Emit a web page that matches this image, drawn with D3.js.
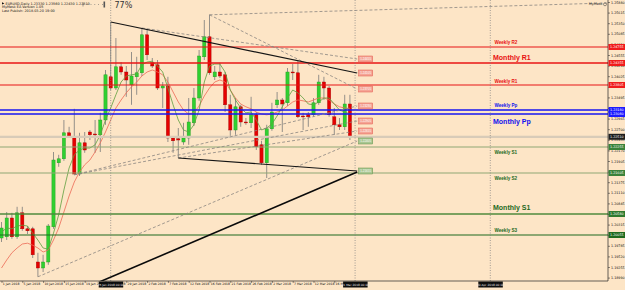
<!DOCTYPE html>
<html>
<head>
<meta charset="utf-8">
<script src="https://cdn.jsdelivr.net/npm/d3@7"></script>
<style>
  html, body { margin: 0; padding: 0; background: #fde5c6; }
  svg { display: block; font-family: "Liberation Sans", "DejaVu Sans", sans-serif; }
</style>
</head>
<body>
<div id="chart"></div>
<script>
// EURUSD daily candles, one entry per bar (bar 0 = 1 Jan 2018, Sunday bars included)
const candleOpen = [
  1.1998, 1.2001, 1.2048, 1.2001, 1.2061, 1.2021, 1.2021, 1.1938, 1.1923, 1.1938,
  1.2026, 1.2186, 1.2196, 1.2261, 1.2251, 1.2158, 1.2236, 1.2263, 1.2258, 1.2256,
  1.2293, 1.2401, 1.2373, 1.2426, 1.2413, 1.2381, 1.2401, 1.2411, 1.2506, 1.2436,
  1.2431, 1.2373, 1.2378, 1.2248, 1.2246, 1.2238, 1.2248, 1.2286, 1.2348, 1.2451,
  1.2501, 1.2401, 1.2413, 1.2406, 1.2331, 1.2268, 1.2326, 1.2288, 1.2286, 1.2306,
  1.2231, 1.2186, 1.2271, 1.2331, 1.2343, 1.2336, 1.2413, 1.2411, 1.2303, 1.2306,
  1.2306, 1.2336, 1.2388, 1.2373, 1.2301, 1.2281, 1.2276, 1.2333
];
const candleHigh = [
  1.2038, 1.2063, 1.2061, 1.2076, 1.2076, 1.2028, 1.2026, 1.1961, 1.1956, 1.2033,
  1.2213, 1.2206, 1.2293, 1.2276, 1.2321, 1.2261, 1.2263, 1.2268, 1.2293, 1.2311,
  1.2418, 1.2538, 1.2498, 1.2438, 1.2428, 1.2463, 1.2451, 1.2523, 1.2518, 1.2448,
  1.2443, 1.2388, 1.2401, 1.2253, 1.2273, 1.2286, 1.2348, 1.2373, 1.2468, 1.2543,
  1.2556, 1.2428, 1.2436, 1.2413, 1.2356, 1.2348, 1.2331, 1.2298, 1.2351, 1.2313,
  1.2241, 1.2281, 1.2336, 1.2363, 1.2348, 1.2423, 1.2433, 1.2443, 1.2311, 1.2313,
  1.2348, 1.2406, 1.2401, 1.2378, 1.2323, 1.2298, 1.2356, 1.2356
];
const candleLow = [
  1.1988, 1.1993, 1.1996, 1.1996, 1.2016, 1.2008, 1.1948, 1.1901, 1.1913, 1.1931,
  1.2021, 1.2176, 1.2191, 1.2248, 1.2156, 1.2153, 1.2211, 1.2243, 1.2211, 1.2213,
  1.2281, 1.2368, 1.2368, 1.2406, 1.2351, 1.2331, 1.2356, 1.2403, 1.2443, 1.2423,
  1.2368, 1.2323, 1.2238, 1.2211, 1.2198, 1.2231, 1.2231, 1.2278, 1.2341, 1.2443,
  1.2406, 1.2393, 1.2398, 1.2313, 1.2251, 1.2256, 1.2276, 1.2281, 1.2273, 1.2218,
  1.2181, 1.2148, 1.2266, 1.2323, 1.2263, 1.2328, 1.2393, 1.2298, 1.2268, 1.2276,
  1.2301, 1.2331, 1.2343, 1.2301, 1.2256, 1.2268, 1.2268, 1.2243
];
const candleClose = [
  1.2023, 1.2048, 1.2001, 1.2061, 1.2021, 1.2016, 1.1956, 1.1923, 1.1938, 1.2028,
  1.2193, 1.2196, 1.2261, 1.2253, 1.2158, 1.2236, 1.2218, 1.2256, 1.2256, 1.2293,
  1.2406, 1.2373, 1.2426, 1.2413, 1.2393, 1.2403, 1.2411, 1.2506, 1.2456, 1.2428,
  1.2373, 1.2378, 1.2248, 1.2241, 1.2243, 1.2248, 1.2288, 1.2348, 1.2453, 1.2501,
  1.2411, 1.2413, 1.2403, 1.2331, 1.2268, 1.2326, 1.2288, 1.2286, 1.2306, 1.2226,
  1.2186, 1.2271, 1.2313, 1.2343, 1.2333, 1.2413, 1.2411, 1.2301, 1.2301, 1.2301,
  1.2336, 1.2388, 1.2373, 1.2306, 1.2281, 1.2276, 1.2333, 1.2251
];

// Moving averages (fast = green, slow = salmon)
const maFast = [
  1.2013, 1.2023, 1.2021, 1.2028, 1.2030, 1.2028, 1.2010, 1.1993, 1.1973, 1.1970,
  1.2010, 1.2056, 1.2118, 1.2173, 1.2206, 1.2218, 1.2223, 1.2223, 1.2231, 1.2256,
  1.2293, 1.2323, 1.2356, 1.2388, 1.2403, 1.2406, 1.2408, 1.2431, 1.2438, 1.2440,
  1.2428, 1.2413, 1.2373, 1.2331, 1.2293, 1.2268, 1.2263, 1.2281, 1.2318, 1.2388,
  1.2428, 1.2433, 1.2433, 1.2413, 1.2368, 1.2343, 1.2323, 1.2311, 1.2313, 1.2293,
  1.2268, 1.2273, 1.2283, 1.2303, 1.2326, 1.2348, 1.2368, 1.2361, 1.2348, 1.2333,
  1.2331, 1.2338, 1.2348, 1.2348, 1.2333, 1.2318, 1.2313, 1.2308
];
const maSlow = [
  1.1923, 1.1943, 1.1961, 1.1973, 1.1983, 1.1985, 1.1980, 1.1973, 1.1963, 1.1968,
  1.1993, 1.2023, 1.2063, 1.2103, 1.2138, 1.2163, 1.2181, 1.2193, 1.2213, 1.2236,
  1.2263, 1.2293, 1.2323, 1.2343, 1.2361, 1.2376, 1.2388, 1.2403, 1.2413, 1.2418,
  1.2413, 1.2406, 1.2388, 1.2363, 1.2338, 1.2318, 1.2308, 1.2311, 1.2328, 1.2353,
  1.2373, 1.2388, 1.2393, 1.2388, 1.2368, 1.2348, 1.2333, 1.2326, 1.2321, 1.2313,
  1.2308, 1.2306, 1.2308, 1.2313, 1.2318, 1.2328, 1.2338, 1.2343, 1.2341, 1.2338,
  1.2343, 1.2348, 1.2348, 1.2343, 1.2333, 1.2326, 1.2323, 1.2321
];

// Pivot levels
const levelNames = ["Weekly R2", "Monthly R1", "Weekly R1", "Weekly Pp", "Monthly Pp",
  "Weekly S1", "Weekly S2", "Monthly S1", "Weekly S3"];
const levelPrices = [1.24755, 1.24355, 1.23805, 1.23180, 1.23080,
  1.22255, 1.21605, 1.20580, 1.20055];

// Trend lines: [[startBar, startPrice], [endBar, endPrice]]
const solidTrends = [
  [[21, 1.2538], [68.4, 1.24105]],
  [[34, 1.2198], [68.4, 1.21655]]
];
const heavyTrends = [
  [[17, 1.1878], [68.4, 1.2163]]
];
const dashedTrends = [
  [[40, 1.2556], [68.4, 1.23705]],
  [[40, 1.2556], [116.4, 1.25855]],
  [[27, 1.2523], [68.4, 1.24455]],
  [[14, 1.2156], [68.4, 1.2328]],
  [[14, 1.2156], [68.4, 1.22905]],
  [[34, 1.2198], [68.4, 1.22655]],
  [[7, 1.1901], [68.4, 1.22405]]
];

// Axis ticks
const priceTicks = [1.25880, 1.25615, 1.25350, 1.25085, 1.24820, 1.24555, 1.24290, 1.24025,
  1.23760, 1.23495, 1.23230, 1.22965, 1.22700, 1.22435, 1.22170, 1.21905, 1.21640, 1.21375,
  1.21110, 1.20845, 1.20580, 1.20315, 1.20050, 1.19785, 1.19520, 1.19255, 1.18990];
const dateTickBars = [0, 4, 8, 12, 16, 20, 24, 28, 32, 36, 40, 44, 48, 52, 56, 60, 64];
const dateTickLabels = ["1 Jan 2018", "5 Jan 2018", "10 Jan 2018", "15 Jan 2018", "19 Jan 2018",
  "24 Jan 2018", "29 Jan 2018", "2 Feb 2018", "7 Feb 2018", "12 Feb 2018", "16 Feb 2018",
  "21 Feb 2018", "26 Feb 2018", "2 Mar 2018", "7 Mar 2018", "12 Mar 2018", "16 Mar 2018"];

// Vertical dotted marker lines and their time boxes
const markerBars = [21, 68, 94];
const markerLabels = ["25 Jan 2018 00:00", "21 Mar 2018 00:00", "20 Apr 2018 00:00"];

const headerLines = ["EURUSD,Daily  1.23330 1.23560 1.22430 1.22510", "MyMask EA Version 1.05",
  "Last Publish: 2018.03.20 19:00"];

const width = 625, height = 290;
const plotRight = 608, plotBottom = 281;

const svg = d3.select("#chart").append("svg")
  .attr("width", width).attr("height", height)
  .attr("viewBox", `0 0 ${width} ${height}`);

svg.append("rect").attr("width", width).attr("height", height).attr("fill", "#fde5c6");

svg.append("clipPath").attr("id", "plot-clip")
  .append("rect").attr("width", plotRight).attr("height", plotBottom);

// Bar index -> x, price -> y
const x = d3.scaleLinear().domain([0, 116.44]).range([1.5, 607]);
const y = d3.scaleLinear().domain([1.1893, 1.2593]).range([280, 0]);

const plot = svg.append("g").attr("clip-path", "url(#plot-clip)");

const lastClose = candleClose[candleClose.length - 1];

// Style of each pivot level, keyed by its name
function levelStyle(name) {
  const monthly = name.startsWith("Monthly");
  const kind = name.slice(-2);
  let color, box;
  if (kind[0] === "R") { color = "#e81414"; box = "#f01c1c"; }
  else if (kind === "Pp") { color = "#1414f0"; box = "#1c1cff"; }
  else if (name === "Weekly S1" || name === "Weekly S2") { color = "#8fa774"; box = "#3b823b"; }
  else if (name === "Monthly S1") { color = "#4f8a3c"; box = "#2f7a2f"; }
  else { color = "#1f6a1f"; box = "#1f6a1f"; }
  const textColor = kind[0] === "R" ? "#e81010" : kind === "Pp" ? "#1212ee" : "#1d6a1d";
  const offsets = {
    "Weekly R2": -3, "Monthly R1": -3, "Weekly R1": -2.5, "Weekly Pp": -3, "Monthly Pp": 10,
    "Weekly S1": 7, "Weekly S2": 6.5, "Monthly S1": -4, "Weekly S3": -3
  };
  return {
    color, box, textColor,
    width: monthly ? 1.6 : (kind === "Pp" ? 1.3 : 1.1),
    fontSize: monthly ? 7 : 4.6,
    textX: monthly ? 493 : 494.5,
    offset: offsets[name]
  };
}

// Candles
const bars = d3.range(candleOpen.length).map((i) => ({
  i, o: candleOpen[i], h: candleHigh[i], l: candleLow[i], c: candleClose[i]
}));

plot.append("g").selectAll("line").data(bars).join("line")
  .attr("x1", (d) => x(d.i)).attr("x2", (d) => x(d.i))
  .attr("y1", (d) => y(d.h)).attr("y2", (d) => y(d.l))
  .attr("stroke", "#7a7a7a").attr("stroke-width", 0.8);

plot.append("g").selectAll("rect").data(bars).join("rect")
  .attr("x", (d) => x(d.i) - 1.6).attr("width", 3.2)
  .attr("y", (d) => y(Math.max(d.o, d.c)))
  .attr("height", (d) => Math.max(0.9, Math.abs(y(d.o) - y(d.c))))
  .attr("fill", (d) => (d.c >= d.o ? "#30d030" : "#e60000"))
  .attr("stroke", (d) => (d.c >= d.o ? "#1f9a1f" : "#a00000"))
  .attr("stroke-width", 0.4);

// Moving averages
const maLine = d3.line().x((d, i) => x(i)).y((d) => y(d));
plot.append("path").attr("d", maLine(maSlow))
  .attr("fill", "none").attr("stroke", "#ec6a55").attr("stroke-width", 0.8);
plot.append("path").attr("d", maLine(maFast))
  .attr("fill", "none").attr("stroke", "#5fa03f").attr("stroke-width", 0.8);

// Bid line
plot.append("line")
  .attr("x1", 0).attr("x2", plotRight)
  .attr("y1", y(lastClose)).attr("y2", y(lastClose))
  .attr("stroke", "#d8cbb8").attr("stroke-width", 2.2);

// Pivot levels with names
levelNames.forEach((name, k) => {
  const s = levelStyle(name);
  const py = y(levelPrices[k]);
  plot.append("line")
    .attr("x1", 0).attr("x2", plotRight).attr("y1", py).attr("y2", py)
    .attr("stroke", s.color).attr("stroke-width", s.width);
  plot.append("text")
    .attr("x", s.textX).attr("y", py + s.offset)
    .attr("font-size", s.fontSize).attr("font-weight", "bold")
    .attr("fill", s.textColor).text(name);
});

// Dotted marker lines
markerBars.forEach((b) => {
  plot.append("line")
    .attr("x1", x(b)).attr("x2", x(b)).attr("y1", 0).attr("y2", plotBottom)
    .attr("stroke", "#7c7c7c").attr("stroke-width", 0.7).attr("stroke-dasharray", "1,1.5");
});

// Trend lines
const trendPath = (t) => `M${x(t[0][0])},${y(t[0][1])}L${x(t[1][0])},${y(t[1][1])}`;
dashedTrends.forEach((t) => {
  plot.append("path").attr("d", trendPath(t)).attr("fill", "none")
    .attr("stroke", "#8a8580").attr("stroke-width", 0.8).attr("stroke-dasharray", "3,2");
});
solidTrends.forEach((t) => {
  plot.append("path").attr("d", trendPath(t)).attr("fill", "none")
    .attr("stroke", "#151515").attr("stroke-width", 1.1);
});
heavyTrends.forEach((t) => {
  plot.append("path").attr("d", trendPath(t)).attr("fill", "none")
    .attr("stroke", "#0a0a0a").attr("stroke-width", 1.6);
});

// Price tags at the right end of the trend lines
const fmt5 = d3.format(".5f");
[...solidTrends, ...dashedTrends].filter((t) => t[1][0] < 70).forEach((t) => {
  const above = t[1][1] > lastClose;
  const ty = y(t[1][1]);
  const tag = plot.append("g").attr("transform", `translate(${x(t[1][0]) + 1.5},${ty})`);
  tag.append("rect").attr("x", 0).attr("y", -3).attr("width", 14).attr("height", 6)
    .attr("fill", above ? "#f5a596" : "#a9c792")
    .attr("stroke", above ? "#e2574a" : "#5f8f45").attr("stroke-width", 0.5);
  tag.append("text").attr("x", 7).attr("y", 1.2).attr("text-anchor", "middle")
    .attr("font-size", 3).attr("fill", "#ffffff").text(fmt5(t[1][1]));
});

// Axes frame
svg.append("line").attr("x1", plotRight).attr("x2", plotRight).attr("y1", 0).attr("y2", plotBottom)
  .attr("stroke", "#222").attr("stroke-width", 0.7);
svg.append("line").attr("x1", 0).attr("x2", plotRight).attr("y1", plotBottom).attr("y2", plotBottom)
  .attr("stroke", "#222").attr("stroke-width", 0.7);

// Right price axis
const yAxis = d3.axisRight(y).tickValues(priceTicks).tickFormat(fmt5).tickSize(2).tickPadding(1);
const yAxisG = svg.append("g").attr("transform", `translate(${plotRight},0)`).call(yAxis);
yAxisG.select(".domain").remove();
yAxisG.selectAll("line").attr("stroke", "#222").attr("stroke-width", 0.5);
yAxisG.selectAll("text").attr("font-size", 3.3).attr("fill", "#111")
  .attr("font-family", "'DejaVu Sans', sans-serif");

// Coloured price boxes on the axis
const axisBox = (price, fill) => {
  const g = svg.append("g").attr("transform", `translate(${plotRight + 0.5},${y(price)})`);
  g.append("rect").attr("x", 0).attr("y", -3).attr("width", 16.5).attr("height", 6).attr("fill", fill);
  g.append("text").attr("x", 1.5).attr("y", 1.2).attr("font-size", 3.3).attr("fill", "#ffffff")
    .attr("font-family", "'DejaVu Sans', sans-serif").text(fmt5(price));
};
levelNames.forEach((name, k) => axisBox(levelPrices[k], levelStyle(name).box));
axisBox(lastClose, "#1e1e1e");

// Bottom time axis
const xAxis = d3.axisBottom(x).tickValues(dateTickBars)
  .tickFormat((d, k) => dateTickLabels[k]).tickSize(2).tickPadding(1);
const xAxisG = svg.append("g").attr("transform", `translate(0,${plotBottom})`).call(xAxis);
xAxisG.select(".domain").remove();
xAxisG.selectAll("line").attr("stroke", "#222").attr("stroke-width", 0.5);
xAxisG.selectAll("text").attr("font-size", 3.1).attr("fill", "#111")
  .attr("text-anchor", "start").attr("dx", 0.8).attr("dy", "0.2em")
  .attr("font-family", "'DejaVu Sans', sans-serif");

// Time boxes for the marker lines
markerBars.forEach((b, k) => {
  const g = svg.append("g").attr("transform", `translate(${x(b)},${plotBottom + 0.5})`);
  g.append("rect").attr("x", -12).attr("y", 0).attr("width", 24.5).attr("height", 6).attr("fill", "#0d0d0d");
  g.append("text").attr("x", 0.2).attr("y", 4.2).attr("text-anchor", "middle")
    .attr("font-size", 2.9).attr("fill", "#e8e8e8")
    .attr("font-family", "'DejaVu Sans', sans-serif").text(markerLabels[k]);
});

// Header block, top left
const header = svg.append("g").attr("font-family", "'DejaVu Sans', sans-serif")
  .attr("font-size", 3.4).attr("fill", "#111");
header.append("path").attr("d", "M2,2.2L4.4,3.4L2,4.6Z").attr("fill", "#111");
headerLines.forEach((t, k) => {
  header.append("text").attr("x", k === 0 ? 5.5 : 2).attr("y", 4.6 + k * 3.8).text(t);
});

// Small widget and percentage next to the first marker
svg.append("line").attr("x1", 83).attr("x2", 104).attr("y1", 4.5).attr("y2", 4.5)
  .attr("stroke", "#666").attr("stroke-width", 0.7).attr("stroke-dasharray", "0.8,3");
svg.append("line").attr("x1", 83).attr("x2", 83).attr("y1", 2.5).attr("y2", 6.5)
  .attr("stroke", "#666").attr("stroke-width", 0.6);
svg.append("rect").attr("x", 103.5).attr("y", 1.5).attr("width", 1.6).attr("height", 6).attr("fill", "#555");
svg.append("text").attr("x", 114.5).attr("y", 7.6).attr("font-size", 8)
  .attr("font-family", "'DejaVu Sans', sans-serif").attr("fill", "#333").text("77%");

// Indicator tag, top right
svg.append("text").attr("x", 602.5).attr("y", 5.4).attr("text-anchor", "end")
  .attr("font-size", 3.4).attr("font-family", "'DejaVu Sans', sans-serif").attr("fill", "#222")
  .text("MyMask");
svg.append("circle").attr("cx", 605).attr("cy", 4.3).attr("r", 1.5)
  .attr("fill", "none").attr("stroke", "#333").attr("stroke-width", 0.5);
</script>
</body>
</html>
